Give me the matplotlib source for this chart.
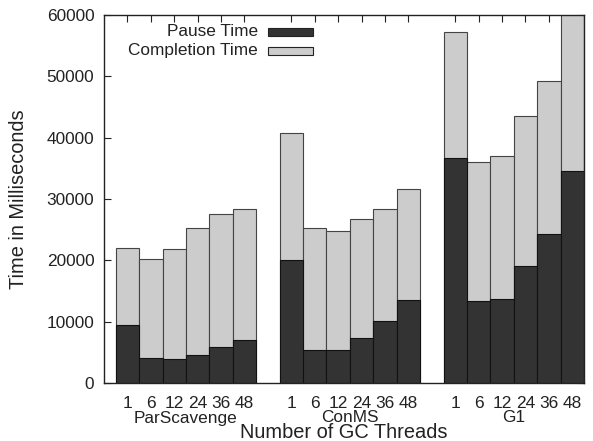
import matplotlib
matplotlib.use("Agg")
import matplotlib.pyplot as plt
from matplotlib.patches import Rectangle

plt.rcParams['font.family'] = ['Liberation Sans', 'DejaVu Sans']

collectors = ["ParScavenge", "ConMS", "G1"]
threads = ["1", "6", "12", "24", "36", "48"]

# pause time (ms) and total height of bar (completion time, ms)
pause_time = {
    "ParScavenge": [9400, 4000, 3900, 4600, 5900, 7000],
    "ConMS": [20000, 5300, 5400, 7400, 10100, 13600],
    "G1": [36700, 13400, 13700, 19100, 24300, 34500],
}
completion_time = {
    "ParScavenge": [22000, 20200, 21800, 25200, 27500, 28300],
    "ConMS": [40700, 25300, 24800, 26800, 28300, 31600],
    "G1": [57300, 36100, 37000, 43500, 49300, 62000],
}

dark = "#333333"
light = "#cccccc"
ink = "#222222"
fs = 12.4

fig = plt.figure(figsize=(5.93, 4.41), dpi=100)
ax = fig.add_axes([104/593, 1-383/441, 480/593, 368/441])

xpos, xlab, centers = [], [], []
for g, name in enumerate(collectors):
    xs = [g*7 + i for i in range(len(threads))]
    ax.bar(xs, completion_time[name], width=1.0, color=light, edgecolor="#444444", linewidth=0.8, zorder=2)
    ax.bar(xs, pause_time[name], width=1.0, color=dark, edgecolor="#111111", linewidth=0.8, zorder=3)
    xpos += xs
    xlab += threads
    centers.append(sum(xs)/len(xs))

ax.set_xlim(-1, 19.5)
ax.set_ylim(0, 60000)
ax.set_yticks(range(0, 60001, 10000))
ax.set_xticks(xpos)
ax.set_xticklabels(xlab)
ax.tick_params(axis="both", direction="in", labelsize=fs, colors=ink,
               top=True, right=True, length=5, width=0.8)
ax.tick_params(axis="x", bottom=False, pad=9)
ax.tick_params(axis="y", pad=7)
for s in ax.spines.values():
    s.set_linewidth(1.0)
    s.set_color(ink)
    s.set_zorder(5)

for c, name in zip(centers, collectors):
    ax.text(c, -(418-383)/368, name, transform=ax.get_xaxis_transform(), ha="center", va="center",
            fontsize=fs, color=ink)

ax.set_xlabel("Number of GC Threads", fontsize=14.4, color=ink, va="center")
ax.xaxis.set_label_coords(0.5, -(432-383)/368)
ax.set_ylabel("Time in Milliseconds", fontsize=14.4, color=ink, va="center")
ax.yaxis.set_label_coords((19-104)/480, 0.5)

# legend drawn by hand, gnuplot style (text right, sample box right)
for i, (lab, col) in enumerate([("Pause Time", dark), ("Completion Time", light)]):
    yc = 1 - (17 + 19*i) / 368
    ax.text((258-104)/480, yc, lab, transform=ax.transAxes, ha="right", va="center",
            fontsize=fs, color=ink)
    ax.add_patch(Rectangle(((268-104)/480, yc - 4/368), 45/480, 8/368, transform=ax.transAxes,
                           facecolor=col, edgecolor=ink, linewidth=0.8, zorder=6))

fig.savefig("out.png", dpi=100)
